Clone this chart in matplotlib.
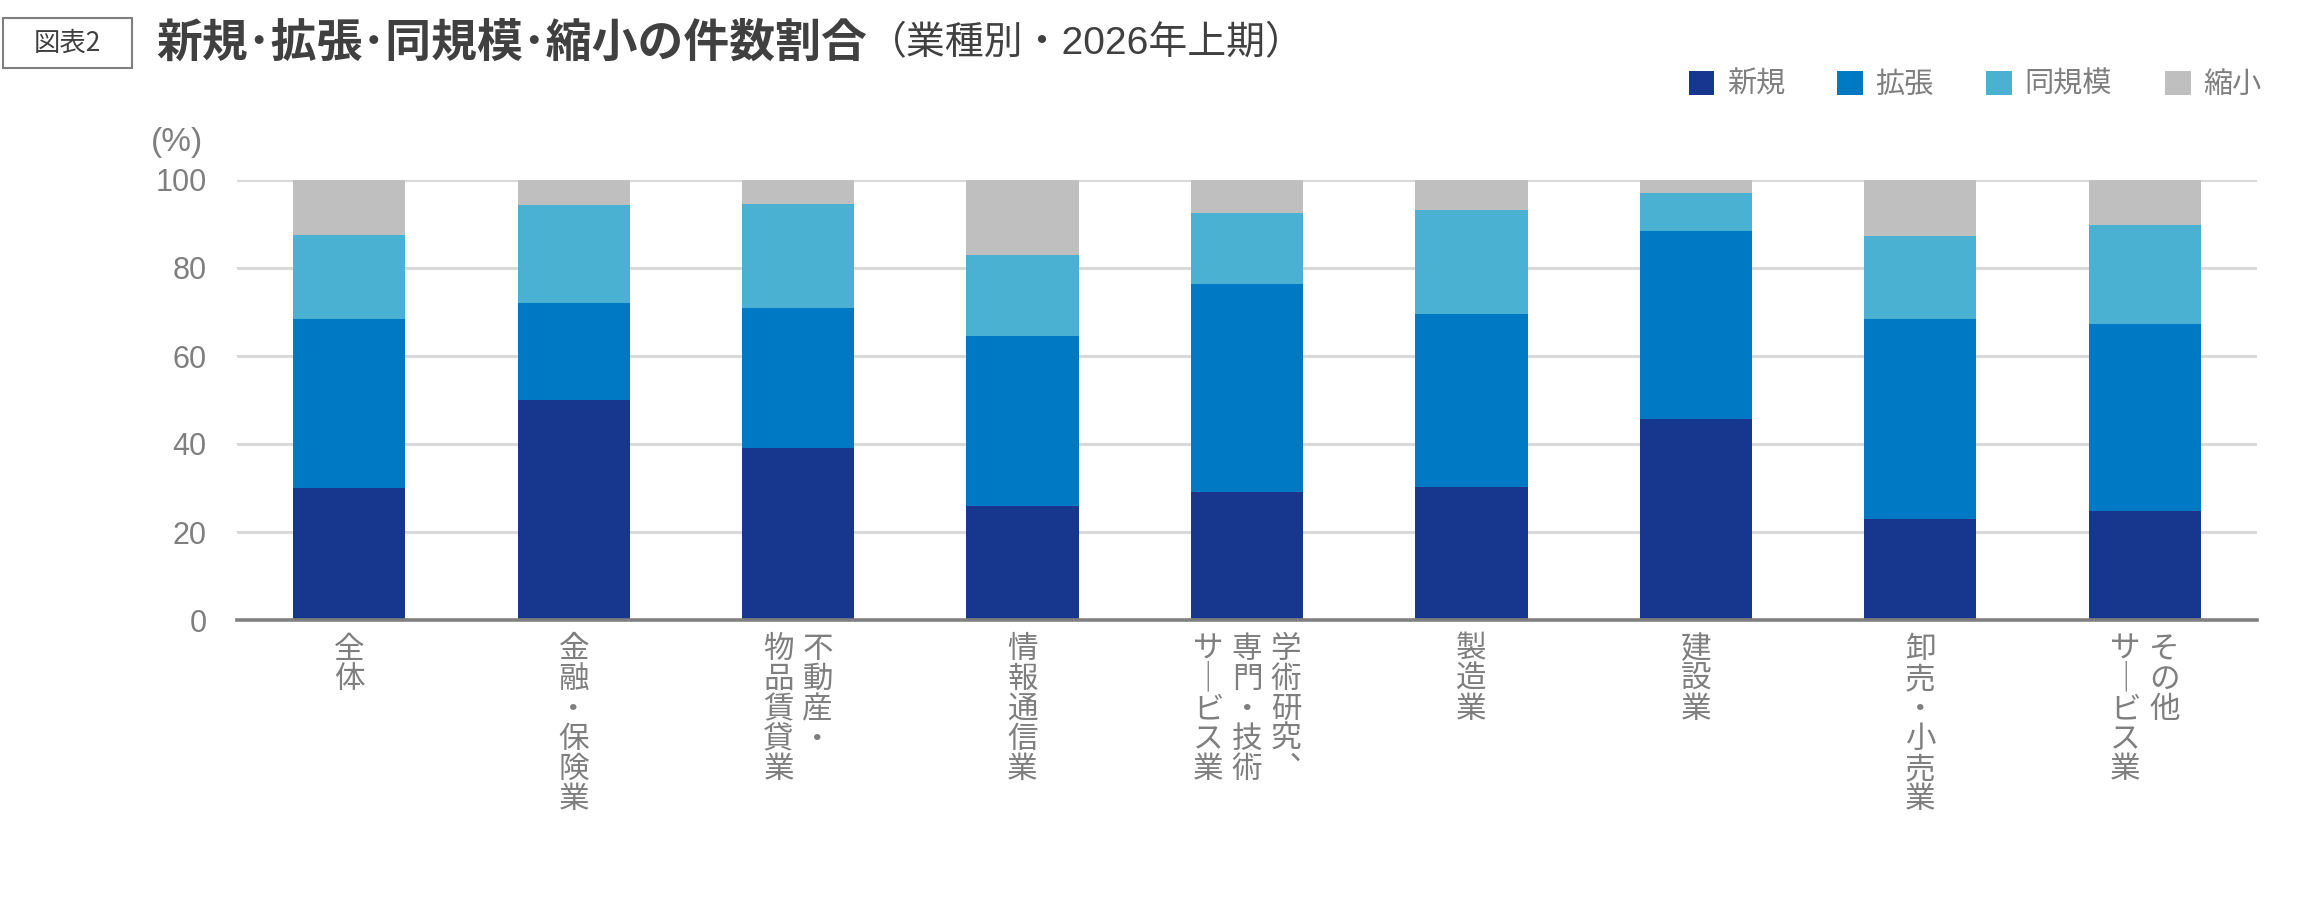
import numpy as np
import matplotlib.pyplot as plt
from matplotlib.patches import Patch, Rectangle

plt.rcParams['font.family'] = ['Liberation Sans', 'Noto Sans CJK JP', 'DejaVu Sans']

# data (%)
industries = ['全体', '金融・保険業', '不動産・物品賃貸業', '情報通信業',
              '学術研究、専門・技術サービス業', '製造業', '建設業',
              '卸売・小売業', 'その他サービス業']
# vertical label columns, right to left
label_cols = [['全体'], ['金融・保険業'], ['不動産・', '物品賃貸業'], ['情報通信業'],
              ['学術研究、', '専門・技術', 'サービス業'], ['製造業'], ['建設業'],
              ['卸売・小売業'], ['その他', 'サービス業']]
series = ['新規', '拡張', '同規模', '縮小']
shinki = [30.1, 49.9, 39.2, 26.0, 29.2, 30.3, 45.6, 23.0, 24.8]
kakucho = [38.3, 22.1, 31.7, 38.5, 47.2, 39.2, 42.8, 45.4, 42.4]
dokibo = [19.1, 22.4, 23.7, 18.5, 16.2, 23.7, 8.7, 18.9, 22.6]
shukusho = [12.5, 5.6, 5.4, 17.0, 7.4, 6.8, 2.9, 12.7, 10.2]
colors = ['#17368e', '#0079c5', '#4ab1d3', '#bfbfbf']

gray = '#7f7f7f'
cjk = ['Noto Sans CJK JP', 'DejaVu Sans']
W, H = 2305, 914
fig = plt.figure(figsize=(W / 100, H / 100), dpi=100)
ax = fig.add_axes([237 / W, 1 - 620 / H, (2257 - 237) / W, (620 - 180) / H])

x = np.arange(len(industries))
bottom = np.zeros(len(x))
for name, vals, c in zip(series, [shinki, kakucho, dokibo, shukusho], colors):
    ax.bar(x, vals, 0.5, bottom=bottom, color=c, label=name, zorder=3)
    bottom += np.array(vals)

ax.set_xlim(-0.5, 8.5)
ax.set_ylim(0, 100)
ax.set_yticks(range(0, 101, 20))
ax.yaxis.grid(True, color='#d9d9d9', linewidth=2.2, zorder=0)
ax.set_axisbelow(True)
for s in ['top', 'right', 'left']:
    ax.spines[s].set_visible(False)
ax.spines['bottom'].set_color('#808080')
ax.spines['bottom'].set_linewidth(2.6)
ax.spines['bottom'].set_zorder(4)
ax.tick_params(axis='y', length=0, pad=22, labelsize=22, labelcolor=gray)
ax.tick_params(axis='x', length=0)
ax.set_xticks([])

# vertical writing: long-vowel mark and comma in their upright forms
vmap = str.maketrans({'ー': '｜', '、': '︑'})
for i, cols in enumerate(label_cols):
    n = len(cols)
    for k, col in enumerate(cols):
        dx = ((n - 1) / 2 - k) * 28
        ax.annotate('\n'.join(col.translate(vmap)), xy=(i, 0), xycoords=('data', 'axes fraction'),
                    xytext=(dx, -10), textcoords='offset points', ha='center', va='top',
                    fontsize=22, color=gray, linespacing=0.96, family=cjk)

fig.text(151 / W, 1 - 143 / H, '(%)', fontsize=24, color=gray, va='center', ha='left')

# header
fig.patches.append(Rectangle((3 / W, 1 - 68 / H), 129 / W, 50 / H, transform=fig.transFigure,
                             fill=False, edgecolor='#7f7f7f', linewidth=1.5))
fig.text(67 / W, 1 - 43 / H, '図表2', fontsize=19, color='#404040', ha='center', va='center',
         family=cjk)
fig.text(156 / W, 1 - 44 / H, '新規･拡張･同規模･縮小の件数割合', fontsize=33, fontweight='bold',
         color='#404040', ha='left', va='center', family=cjk)
fig.text(868 / W, 1 - 44 / H, '（業種別・2026年上期）', fontsize=28,
         color='#404040', ha='left', va='center')

handles = [Patch(facecolor=c, edgecolor='none') for c in colors]
fig.legend(handles, series, loc='center right', bbox_to_anchor=(2261 / W, 1 - 85 / H),
           ncol=4, frameon=False, labelcolor=gray,
           handlelength=0.89, handleheight=0.89, handletextpad=0.42, columnspacing=1.8,
           borderpad=0, borderaxespad=0, prop={'family': cjk, 'size': 21})

fig.savefig('out.png', dpi=100)
